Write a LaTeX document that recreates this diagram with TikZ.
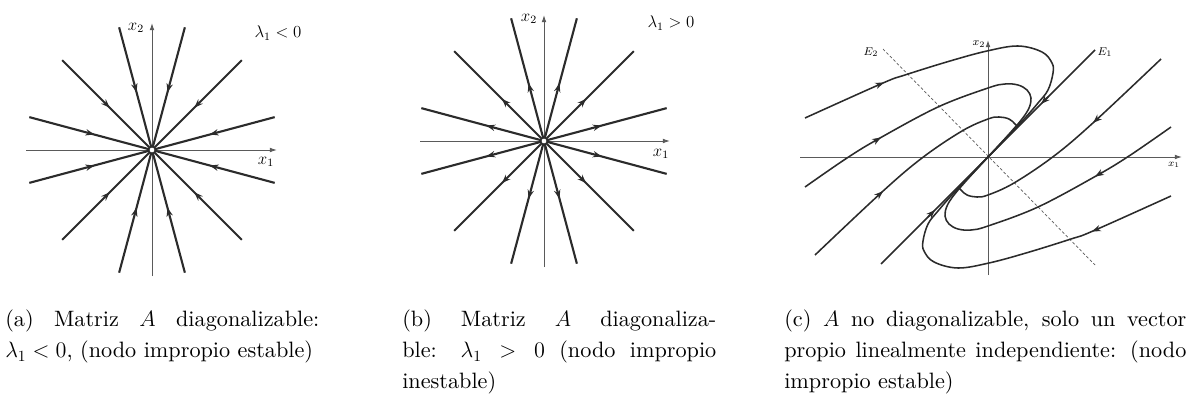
\documentclass[tikz,border=0pt]{standalone}
\usepackage{fix-cm}
\usepackage{fontspec}
\setmainfont{lmroman10-regular.otf}[ItalicFont=lmroman10-italic.otf, BoldFont=lmroman10-bold.otf]
\usetikzlibrary{arrows.meta, decorations.markings}
\definecolor{cdark}{HTML}{2B2B2B}
\definecolor{caxis}{HTML}{5A5A5A}
\tikzset{
  every picture/.style={x=0.025cm, y=0.025cm},
  ray/.style={draw=cdark, line width=1.5pt, postaction={decorate},
    decoration={markings, mark=at position #1 with {\arrow{Stealth[length=2.2mm, width=1.6mm]}}}},
  traj/.style={draw=cdark, line width=1.1pt},
  tip/.style={draw=cdark, line width=1.1pt, -{Stealth[length=2.2mm, width=1.6mm]}},
  axis/.style={draw=caxis, line width=0.7pt, -{Latex[length=1.8mm, width=1.2mm]}},
  lbl/.style={font=\fontsize{12}{14}\selectfont, inner sep=0pt},
  slbl/.style={font=\fontsize{8}{9}\selectfont, inner sep=0pt},
  caption/.style={font=\fontsize{15.8}{22}\selectfont, align=justify, inner sep=0pt, anchor=north west},
}
\begin{document}
\begin{tikzpicture}
  \useasboundingbox (0,0) rectangle (1189,409);
  % (a) stable improper node
  \begin{scope}[shift={(152,259)}]
    \draw[axis] (-126,0) -- (125,0);
    \draw[axis] (0,-126) -- (0,127);
    \foreach \a in {15,45,...,345} \draw[ray=0.53] (\a:127) -- (0,0);
    \node[circle, draw=cdark, fill=white, line width=0.6pt, inner sep=0pt, minimum size=0.15cm] (oa) at (0,0) {};
    \node[lbl] (x2a) at (-16,122) {$x_2$};
    \node[lbl] (x1a) at (114,-12) {$x_1$};
    \node[lbl] (lama) at (126,117) {$\lambda_1<0$};
  \end{scope}
  % (b) unstable improper node
  \begin{scope}[shift={(544,268)}]
    \draw[axis] (-124,0) -- (126,0);
    \draw[axis] (0,-126) -- (0,126);
    \foreach \a in {15,45,...,345} \draw[ray=0.47] (0,0) -- (\a:127);
    \node[circle, draw=cdark, fill=white, line width=0.6pt, inner sep=0pt, minimum size=0.15cm] (ob) at (0,0) {};
    \node[lbl] (x2b) at (-15,122) {$x_2$};
    \node[lbl] (x1b) at (117,-13) {$x_1$};
    \node[lbl] (lamb) at (127,118) {$\lambda_1>0$};
  \end{scope}
  % (c) one eigenvector
  \begin{scope}[shift={(988,252)}]
    \draw[axis] (-188,0) -- (194,0);
    \draw[axis] (0,-118) -- (0,117);
    \draw[draw=caxis, line width=0.5pt, dash pattern=on 2pt off 1.5pt] (-105,108) -- (107,-108);
    \foreach \r in {0,180} {
      \begin{scope}[rotate=\r]
        \draw[traj] (107,107) -- (0,0);
        \draw[tip] (60,60) -- (53,53);
        \draw[traj] plot[smooth, tension=0.6] coordinates {(-183,39) (-105,74) (-83,82) (-38,96) (-1,106) (30,111) (54,105) (64,94) (65,84) (60,67) (50,54) (37,39) (20,21) (0,0)};
        \draw[tip] (-111,71.6) -- (-104,74.4);
        \draw[traj] plot[smooth, tension=0.6] coordinates {(-183,-30) (-141,-1) (-108,19) (-50,50) (0,69) (17,73) (30,72) (39,67) (43,59) (41,49) (34,38) (22,24) (10,10.8) (0,0)};
        \draw[tip] (-114,15.4) -- (-107,19.6);
        \draw[traj] plot[smooth, tension=0.6] coordinates {(-173,-98) (-106,-35) (-66,-1) (-26,26) (0,38) (11,40) (21,38) (27,33) (28.5,29.5) (20,21) (10,10.4) (0,0)};
        \draw[tip] (-111,-39.6) -- (-105,-34.1);
      \end{scope}
    }
    \node[slbl] (e2) at (-117,105) {$E_2$};
    \node[slbl] (e1) at (117,105) {$E_1$};
    \node[slbl] (x2c) at (-9,113) {$x_2$};
    \node[slbl, font=\fontsize{7}{8}\selectfont] (x1c) at (186,-8) {$x_1$};
  \end{scope}
  % captions
  \node[caption, text width=7.85cm] (capa) at (5,99) {(a) Matriz $A$ diagonalizable:\linebreak $\lambda_1<0$, (nodo impropio estable)};
  \node[caption, text width=7.85cm] (capb) at (402,99) {(b) Matriz $A$ diagonaliza-\linebreak ble: $\lambda_1>0$ (nodo impropio\linebreak inestable)};
  \node[caption, text width=10.05cm] (capc) at (784,99) {(c) $A$ no diagonalizable, solo un vector\linebreak propio linealmente independiente: (nodo\linebreak impropio estable)};
\end{tikzpicture}
\end{document}
